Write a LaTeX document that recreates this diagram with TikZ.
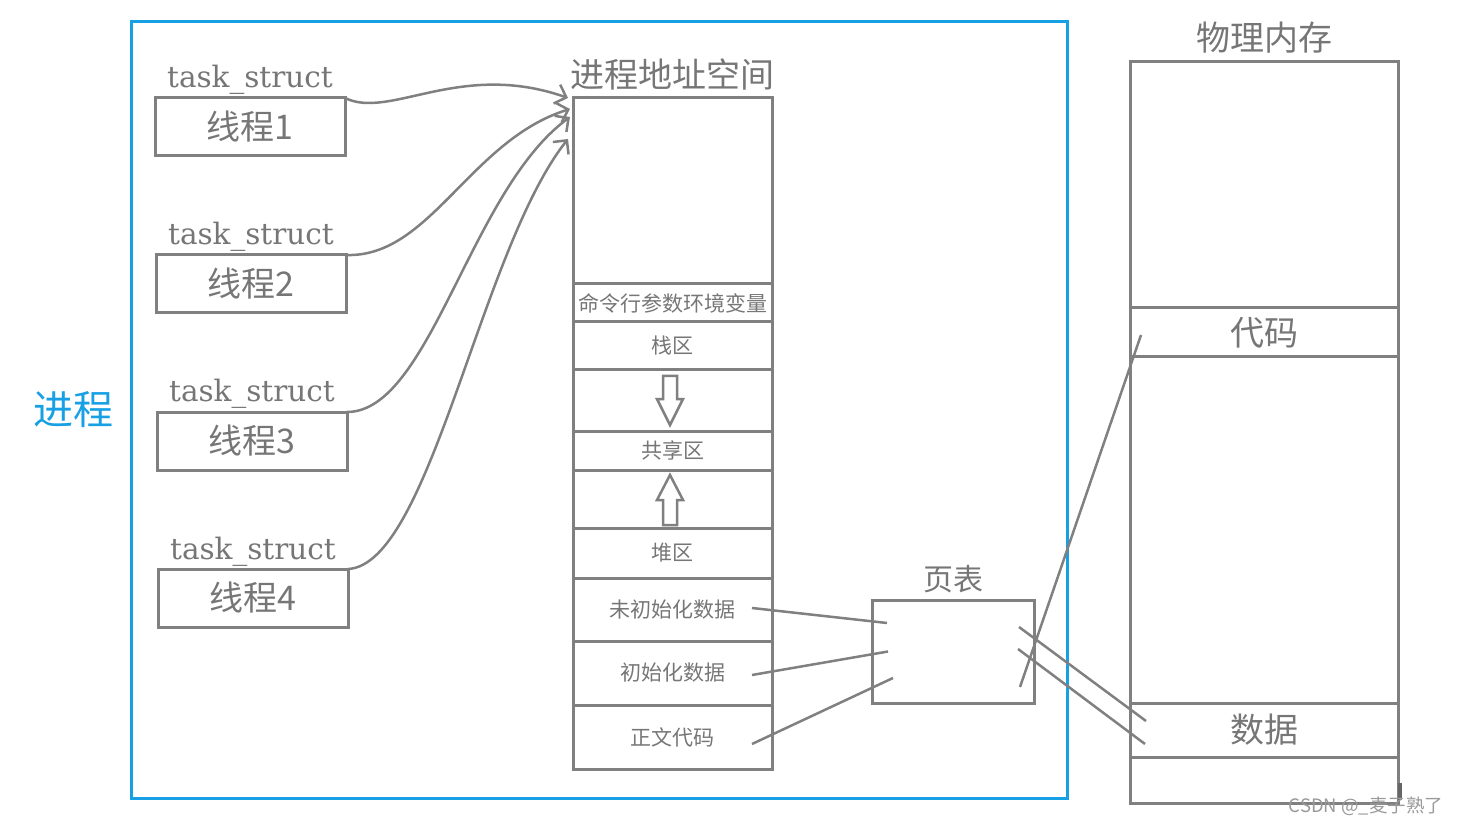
\documentclass[tikz,border=0pt]{standalone}
\usepackage{fontspec}
\newfontfamily\cjk{Noto Sans CJK SC}
\newfontfamily\tagfont{DejaVu Serif}
\usepackage{tikz}
\usetikzlibrary{positioning}
\usetikzlibrary{arrows.meta}

\definecolor{linegray}{RGB}{128,128,128}
\definecolor{txtgray}{RGB}{118,118,118}
\definecolor{procblue}{RGB}{24,160,228}

\tikzset{
  box/.style={draw=linegray, line width=3pt, inner sep=0pt, outer sep=0pt, text=txtgray},
  thread/.style={box, minimum width=190pt, minimum height=58pt, font=\cjk\fontsize{34}{36}\selectfont},
  tag/.style={inner sep=0pt, text=txtgray, font=\tagfont\fontsize{29.5}{32}\selectfont},
  heading/.style={inner sep=0pt, text=txtgray, font=\cjk\fontsize{34}{36}\selectfont},
  seg/.style={box, minimum width=199pt, font=\cjk\fontsize{21}{23}\selectfont},
  mem/.style={box, minimum width=268pt, font=\cjk\fontsize{34}{36}\selectfont},
  link/.style={draw=linegray, line width=2.5pt},
  share/.style={link, -{Straight Barb[length=10pt,width=20pt]}},
  hollow/.style={draw=linegray, line width=2.5pt, line join=miter},
}

\begin{document}
\begin{tikzpicture}[x=1pt, y=-1pt]
\useasboundingbox (0,0) rectangle (1457,826);

% process frame
\node[draw=procblue, line width=3pt, minimum width=936pt, minimum height=776pt] (proc) at (599,410) {};
\node[left=16pt of proc, inner sep=0pt, text=procblue, font=\cjk\fontsize{40}{42}\selectfont] (procname) {进程};

% threads
\node[thread] (t1) at (250,127) {线程1};
\node[thread] (t2) at (251,284) {线程2};
\node[thread] (t3) at (252,441) {线程3};
\node[thread] (t4) at (253,598) {线程4};
\foreach \i in {1,...,4}
  \node[tag, above=10pt of t\i, anchor=base] (ts\i) {task\_struct};

% address space
\node[seg, minimum height=186pt] (aspace) at (672.5,191) {};
\node[heading, above=8pt of aspace] (aslabel) {进程地址空间};
\node[seg, minimum height=38pt, below=0pt of aspace] (args) {命令行参数环境变量};
\node[seg, minimum height=48pt, below=0pt of args] (stack) {栈区};
\node[seg, minimum height=61pt, below=0pt of stack] (gap1) {};
\node[seg, minimum height=39pt, below=0pt of gap1] (shared) {共享区};
\node[seg, minimum height=58pt, below=0pt of shared] (gap2) {};
\node[seg, minimum height=50pt, below=0pt of gap2] (heap) {堆区};
\node[seg, minimum height=63pt, below=0pt of heap] (bss) {未初始化数据};
\node[seg, minimum height=64pt, below=0pt of bss] (data) {初始化数据};
\node[seg, minimum height=64pt, below=0pt of data] (code) {正文代码};

% growth arrows
\draw[hollow] ([xshift=-9.5pt,yshift=24.5pt]gap1.center) -- ++(14,0) -- ++(0,23) -- ++(6,0) -- ++(-13,26) -- ++(-13,-26) -- ++(6,0) -- cycle;
\draw[hollow] ([xshift=-2.5pt,yshift=24pt]gap2.center) -- ++(13,25) -- ++(-6,0) -- ++(0,25) -- ++(-14,0) -- ++(0,-25) -- ++(-6,0) -- cycle;

% page table
\node[box, minimum width=162pt, minimum height=103pt] (ptab) at (953,651.5) {};
\node[heading, font=\cjk\fontsize{30}{32}\selectfont, above=7pt of ptab] (ptlabel) {页表};

% physical memory
\node[mem, minimum height=246pt] (mtop) at (1264,185) {};
\node[heading, above=9pt of mtop] (mlabel) {物理内存};
\node[mem, minimum height=49pt, below=0pt of mtop] (mcode) {代码};
\node[mem, minimum height=346pt, below=0pt of mcode] (mmid) {};
\node[mem, minimum height=54pt, below=0pt of mmid] (mdata) {数据};
\node[mem, minimum height=46pt, below=0pt of mdata] (mbot) {};

% threads share one address space
\draw[share] (t1.north east) .. controls +(45,22) and +(-108,-38) .. ([xshift=-5pt]aspace.north west);
\draw[share] (t2.north east) .. controls +(84,3) and +(-100,31) .. ([xshift=-3pt,yshift=-11pt]aspace.north west);
\draw[share] (t3.north east) .. controls +(83,0) and +(-100,73) .. ([xshift=-3pt,yshift=-19pt]aspace.north west);
\draw[share] (t4.north east) .. controls +(82,-4) and +(-88,111) .. ([xshift=-5pt,yshift=-41pt]aspace.north west);

% segments -> page table
\draw[link] ([xshift=-20pt,yshift=1.5pt]bss.east) -- ([xshift=15pt,yshift=28.5pt]ptab.west);
\draw[link] ([xshift=-20pt,yshift=-2pt]data.east) -- ([xshift=16pt]ptab.west);
\draw[link] ([xshift=-20pt,yshift=-7pt]code.east) -- ([xshift=21pt,yshift=-26.5pt]ptab.west);

% page table -> physical memory
\draw[link] ([xshift=-14pt,yshift=-35.5pt]ptab.east) -- ([xshift=11pt,yshift=-2.5pt]mcode.west);
\draw[link] ([xshift=-15pt,yshift=24.5pt]ptab.east) -- ([xshift=16pt,yshift=9pt]mdata.west);
\draw[link] ([xshift=-16pt,yshift=2.5pt]ptab.east) -- ([xshift=15pt,yshift=-14pt]mdata.west);

\draw[draw=linegray!80!black, line width=4pt] ([xshift=2pt,yshift=20pt]mbot.south east) -- ([xshift=2pt,yshift=3pt]mbot.south east);
\node[inner sep=0pt, text=black!40, font=\cjk\fontsize{18.5}{20}\selectfont] (mark) at (1366,806) {CSDN @\_麦子熟了};
\end{tikzpicture}
\end{document}
